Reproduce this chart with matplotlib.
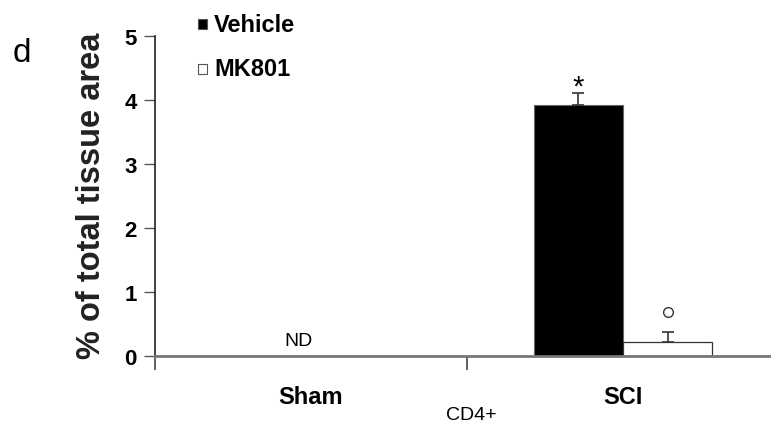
import numpy as np
from matplotlib import pyplot as plt
from matplotlib import transforms
from matplotlib.patches import Rectangle

# data
groups = ["Sham", "SCI"]
series = ["Vehicle", "MK801"]
series_colors = ["black", "white"]
vehicle = [0.0, 3.92]
vehicle_err = [0.0, 0.19]
mk801 = [0.0, 0.22]
mk801_err = [0.0, 0.16]
shown = [False, True]  # Sham not detected (ND)

plt.rcParams['font.family'] = ["Liberation Sans", "DejaVu Sans"]

W, H = 771, 427
fig = plt.figure(figsize=(W / 100, H / 100), dpi=100)
ax = fig.add_axes([155 / W, 1 - 357 / H, (779 - 155) / W, 320 / H])

x = np.arange(len(groups))
w = 0.287
idx = [i for i in range(len(groups)) if shown[i]]
xv = x[idx] - 0.143
xm = x[idx] + 0.143
yv = [vehicle[i] for i in idx]
ym = [mk801[i] for i in idx]
ax.bar(xv, yv, w, color=series_colors[0], edgecolor="#666666", lw=0.8)
ax.bar(xm, ym, w, color=series_colors[1], edgecolor="#333333", lw=0.9)
ax.errorbar(xv, yv, yerr=[[0] * len(idx), [vehicle_err[i] for i in idx]],
            fmt="none", ecolor="#333333", elinewidth=1.2, capsize=4, capthick=1.2)
ax.errorbar(xm, ym, yerr=[[0] * len(idx), [mk801_err[i] for i in idx]],
            fmt="none", ecolor="#333333", elinewidth=1.2, capsize=4, capthick=1.2)

# significance marks
for k, i in enumerate(idx):
    ax.text(xv[k], vehicle[i] + vehicle_err[i] - 0.02, "*", ha="center", va="baseline", fontsize=21)
    ax.plot(xm[k], mk801[i] + mk801_err[i] + 0.3, marker="o", ms=7, mfc="white", mec="#333333", mew=1)
ax.text(x[0] - 0.04, 0.25, "ND", ha="center", va="center", fontsize=14)

ax.set_xlim(-0.5, 1.5)
ax.set_ylim(0, 5)
ax.set_yticks(range(6))
ax.set_yticklabels([str(v) for v in range(6)], fontsize=16, fontweight="bold")
ax.set_xticks([-0.5, 0.5, 1.5])
ax.set_xticklabels([])
ax.tick_params(axis="x", direction="out", length=10, width=1.2, color="#444444")
ax.tick_params(axis="y", direction="out", length=8, width=1, color="#555555", pad=5)
for s in ["top", "right"]:
    ax.spines[s].set_visible(False)
ax.spines["left"].set_color("#222222")
ax.spines["left"].set_linewidth(1.2)
ax.spines["bottom"].set_color("#777777")
ax.spines["bottom"].set_linewidth(2)

trans = transforms.blended_transform_factory(ax.transData, fig.transFigure)
for i, g in enumerate(groups):
    ax.text(x[i], 1 - 398 / H, g, transform=trans, ha="center", va="center",
            fontsize=17, fontweight="bold")
fig.text(471 / W, 1 - 416 / H, "CD4+", ha="center", va="center", fontsize=14)

fig.text(92 / W, 1 - 196 / H, "% of total tissue area", rotation=90, ha="center", va="center",
         fontsize=23.5, fontweight="bold", color="#222222")
fig.text(22 / W, 1 - 53 / H, "d", ha="center", va="center", fontsize=24)

# legend drawn by hand to match the spacing of the original
for k, (name, c) in enumerate(zip(series, series_colors)):
    yc = 25 + 45 * k
    fig.add_artist(Rectangle((198 / W, 1 - (yc + 5) / H), 9 / W, 10 / H, transform=fig.transFigure,
                             facecolor=c, edgecolor="#555555", lw=0.8))
    fig.text(214 / W, 1 - yc / H, name, ha="left", va="center", fontsize=17, fontweight="bold")

fig.savefig("out.png", dpi=100)
